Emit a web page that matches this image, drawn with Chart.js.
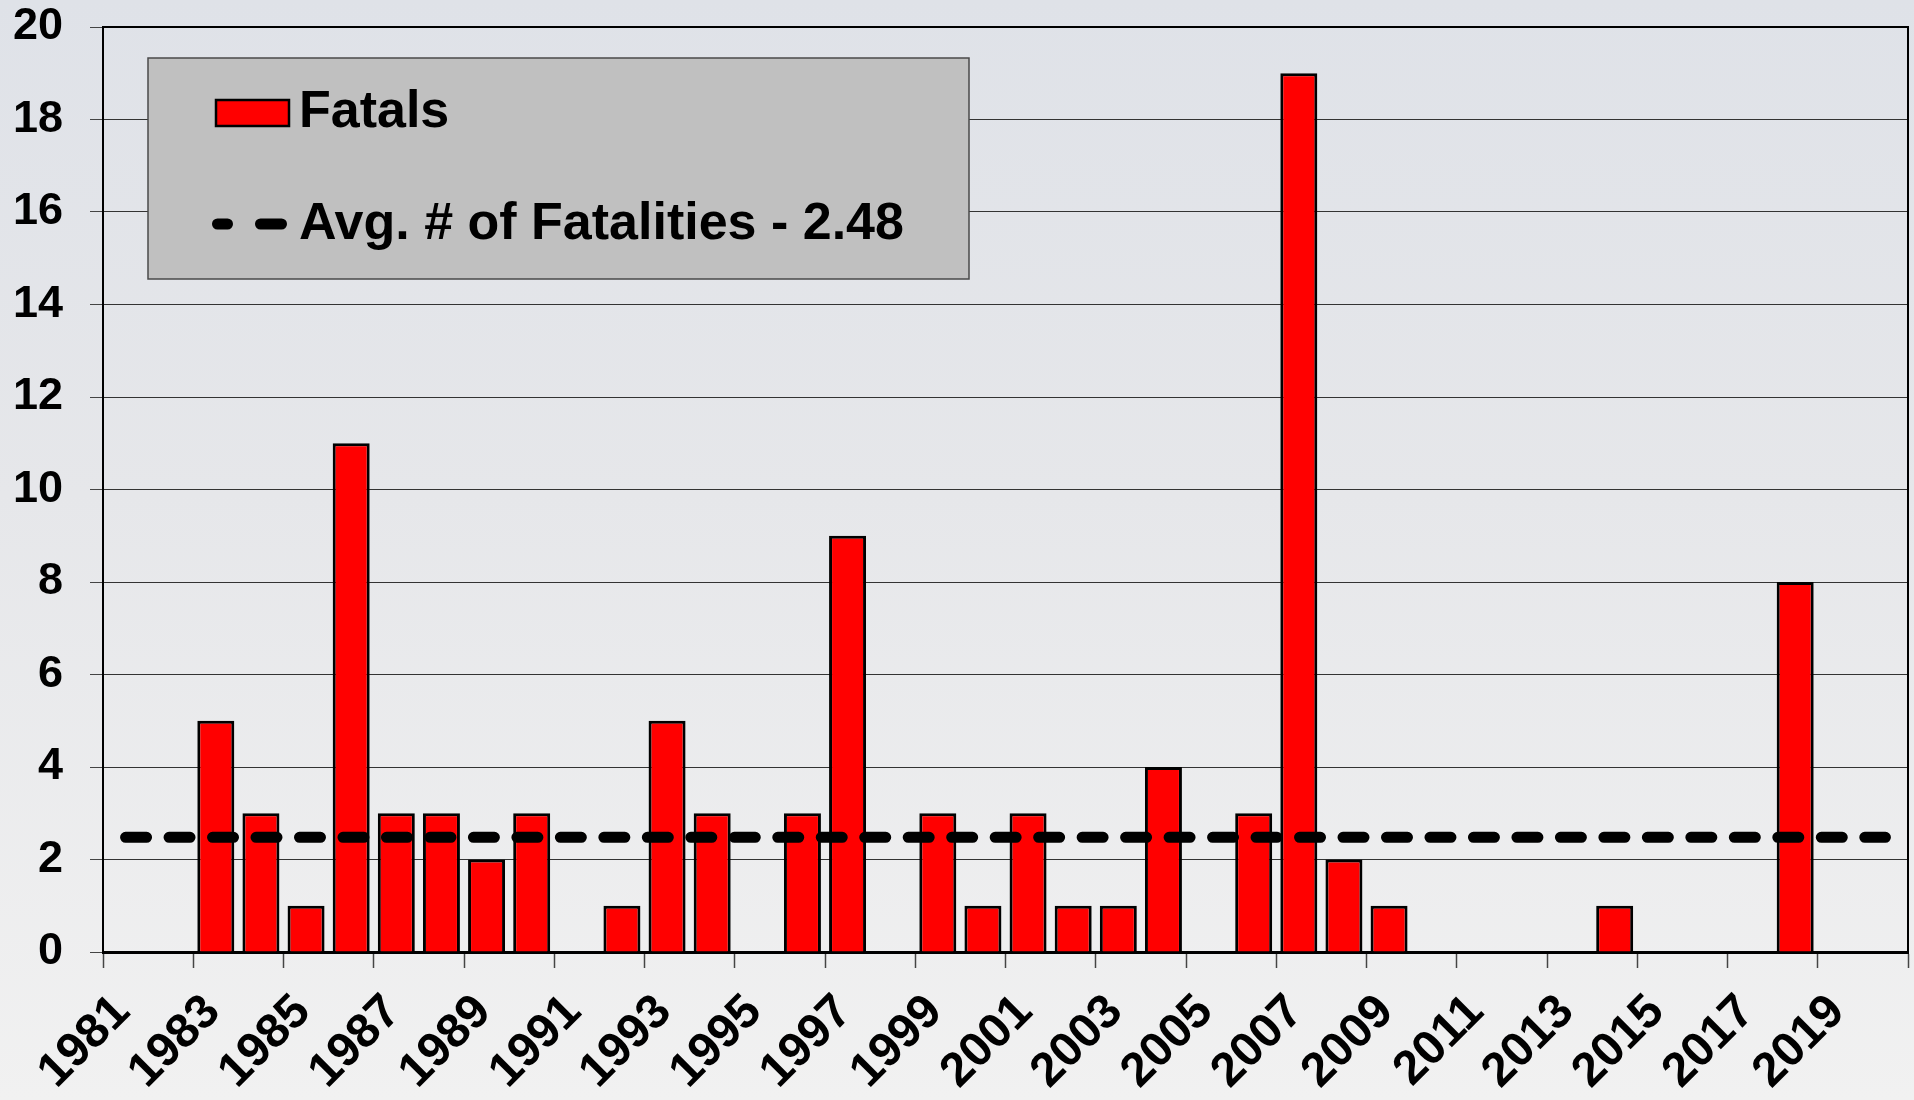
<!DOCTYPE html>
<html>
<head>
<meta charset="utf-8">
<script src="https://cdn.jsdelivr.net/npm/chart.js@4.4.1/dist/chart.umd.min.js"></script>
<style>
  html, body { margin: 0; padding: 0; }
  body {
    width: 1914px; height: 1100px; overflow: hidden;
    background: linear-gradient(to bottom, #dfe2e8 0%, #e6e7ea 45%, #f1f1f1 100%);
  }
  #wrap { position: relative; width: 1914px; height: 1100px; }
</style>
</head>
<body>
<div id="wrap"><canvas id="chart" width="1914" height="1100"></canvas></div>
<script>
// ── Data ─────────────────────────────────────────────────────────────────────
const years = [
  '1981','1982','1983','1984','1985','1986','1987','1988','1989','1990',
  '1991','1992','1993','1994','1995','1996','1997','1998','1999','2000',
  '2001','2002','2003','2004','2005','2006','2007','2008','2009','2010',
  '2011','2012','2013','2014','2015','2016','2017','2018','2019','2020'
];
const fatals = [
  0, 0, 5, 3, 1, 11, 3, 3, 2, 3,
  0, 1, 5, 3, 0, 3, 9, 0, 3, 1,
  3, 1, 1, 4, 0, 3, 19, 2, 1, 0,
  0, 0, 0, 1, 0, 0, 0, 8, 0, 0
];
const avgFatal   = 2.48;
const yTicks     = [0, 2, 4, 6, 8, 10, 12, 14, 16, 18, 20];
const fatalLabel = 'Fatals';
const avgLabel   = 'Avg. # of Fatalities - 2.48';

const FONT = '"Liberation Sans", Arial, sans-serif';

// ── Plot frame (top + right edges, Excel style) ──────────────────────────────
const frame = {
  id: 'frame',
  beforeDatasetsDraw(chart) {
    const { ctx, chartArea: a } = chart;
    ctx.save();
    ctx.strokeStyle = '#000';
    ctx.lineWidth = 2;
    ctx.beginPath();
    ctx.moveTo(a.left, a.top);
    ctx.lineTo(a.right, a.top);
    ctx.lineTo(a.right, a.bottom);
    ctx.stroke();
    ctx.restore();
  }
};

// ── Boxed legend inside the plot ─────────────────────────────────────────────
const boxLegend = {
  id: 'boxLegend',
  afterDraw(chart) {
    const ctx = chart.ctx;
    ctx.save();
    ctx.fillStyle = '#c0c0c0';
    ctx.fillRect(148, 58, 821, 221);
    ctx.strokeStyle = '#4a4a4a';
    ctx.lineWidth = 1.5;
    ctx.strokeRect(148, 58, 821, 221);

    // bar swatch
    ctx.fillStyle = '#ff0000';
    ctx.fillRect(216, 100, 73, 26);
    ctx.strokeStyle = '#000';
    ctx.lineWidth = 2.5;
    ctx.strokeRect(216, 100, 73, 26);

    // dashed swatch
    ctx.lineWidth = 11;
    ctx.lineCap = 'round';
    ctx.beginPath();
    ctx.moveTo(217.5, 224); ctx.lineTo(227.5, 224);
    ctx.moveTo(260.5, 224); ctx.lineTo(281.5, 224);
    ctx.stroke();

    ctx.fillStyle = '#000';
    ctx.font = 'bold 52px ' + FONT;
    ctx.textBaseline = 'middle';
    ctx.textAlign = 'left';
    ctx.fillText(fatalLabel, 299, 113);
    ctx.fillText(avgLabel, 299, 225);
    ctx.restore();
  }
};

new Chart(document.getElementById('chart'), {
  data: {
    labels: years,
    datasets: [
      {
        type: 'line',
        label: avgLabel,
        data: [{ x: years[0], y: avgFatal }, { x: years[years.length - 1], y: avgFatal }],
        borderColor: '#000',
        borderWidth: 11,
        borderDash: [21, 22.48],
        borderCapStyle: 'round',
        pointRadius: 0,
        fill: false,
        order: 0
      },
      {
        type: 'bar',
        label: fatalLabel,
        data: fatals,
        backgroundColor: '#ff0000',
        borderColor: '#000',
        borderWidth: 3,
        barPercentage: 0.82,
        categoryPercentage: 1,
        order: 1
      }
    ]
  },
  options: {
    responsive: false,
    animation: false,
    devicePixelRatio: 1,
    layout: { padding: { left: 0, top: 0, right: 6, bottom: 0 } },
    plugins: { legend: { display: false }, tooltip: { enabled: false } },
    scales: {
      x: {
        type: 'category',
        afterFit: s => { s.height = 148; s.paddingLeft = 0; s.paddingRight = 0; },
        grid: {
          offset: true,
          drawOnChartArea: false,
          tickLength: 16,
          tickWidth: 1.5,
          tickColor: c => (c.index === undefined || c.index % 2 === 0) ? '#444' : 'rgba(0,0,0,0)'
        },
        border: { display: true, color: '#000', width: 3 },
        ticks: {
          autoSkip: false,
          minRotation: 45,
          maxRotation: 45,
          padding: 16,
          labelOffset: -3,
          color: '#000',
          font: { family: FONT, size: 48, weight: 'bold' },
          callback: (v, i) => i % 2 === 0 ? years[i] : ''
        }
      },
      y: {
        min: 0,
        max: 20,
        afterFit: s => { s.width = 103; s.paddingTop = 27; s.paddingBottom = 0; },
        afterBuildTicks: s => { s.ticks = yTicks.map(v => ({ value: v })); },
        grid: { color: '#333', lineWidth: 1, tickLength: 13, tickColor: '#444' },
        border: { display: true, color: '#000', width: 2 },
        ticks: {
          padding: 27,
          color: '#000',
          font: { family: FONT, size: 45, weight: 'bold' }
        }
      }
    }
  },
  plugins: [frame, boxLegend]
});
</script>
</body>
</html>
